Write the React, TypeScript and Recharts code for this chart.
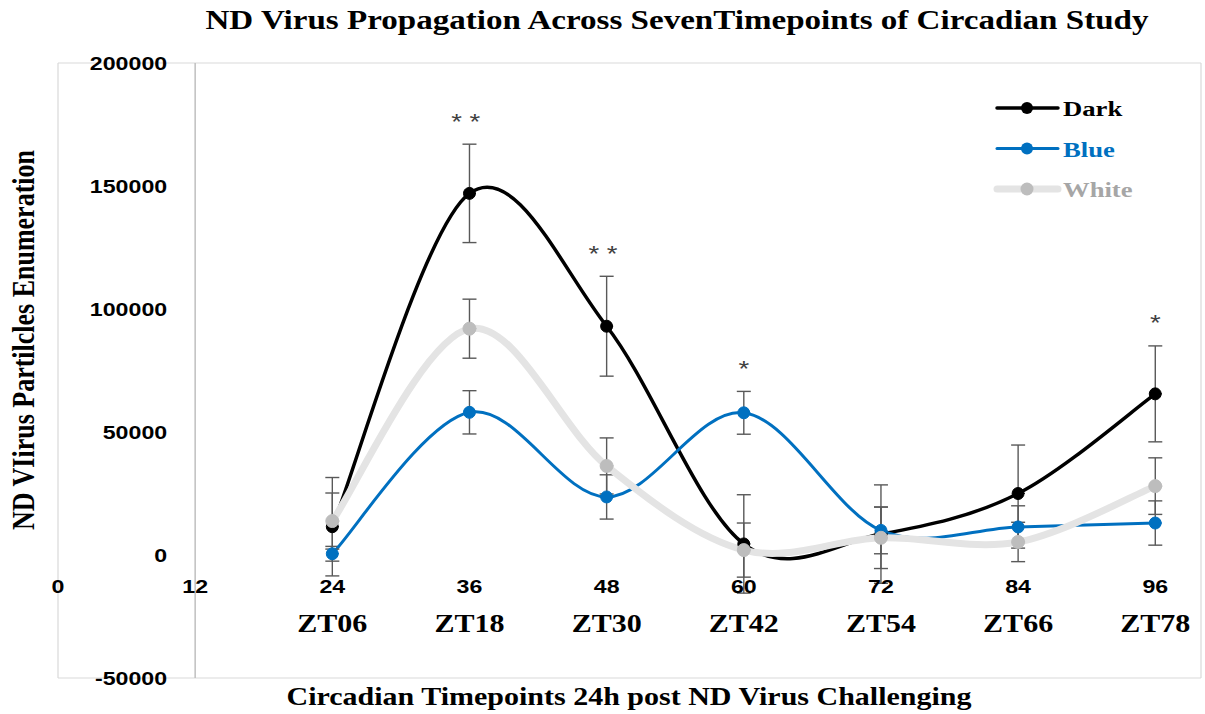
import React from 'react';
import {
  LineChart,
  Line,
  XAxis,
  YAxis,
  CartesianGrid,
  ErrorBar,
  ReferenceLine,
  ReferenceDot,
} from 'recharts';

// Sampling hours (24h post challenge) and their zeitgeber labels
const timepoints = [24, 36, 48, 60, 72, 84, 96];
const ztLabels = ['ZT06', 'ZT18', 'ZT30', 'ZT42', 'ZT54', 'ZT66', 'ZT78'];
const hourTicks = [0, 12, 24, 36, 48, 60, 72, 84, 96];
const valueTicks = [-50000, 0, 50000, 100000, 150000, 200000];

// Mean virus particle counts and their error margins per light regime
const darkMean = [11500, 147000, 93000, 4500, 8500, 25000, 65500];
const darkErr = [20000, 20000, 20300, 20000, 20000, 19700, 19500];
const blueMean = [500, 58000, 23600, 57800, 10000, 11400, 13000];
const blueErr = [3000, 8800, 9000, 8700, 9500, 8600, 9000];
const whiteMean = [13800, 92000, 36200, 2000, 7000, 5300, 28000];
const whiteErr = [11400, 12000, 11400, 11000, 12500, 8000, 11500];

// Significance marks placed over the upper error bar of a series
const sigHours = [36, 48, 60, 96];
const sigMarks = ['**', '**', '*', '*'];
const sigSeries = ['dark', 'dark', 'blue', 'dark'];

const SERIES = [
  { key: 'dark', name: 'Dark', mean: darkMean, err: darkErr, line: '#000000', marker: '#000000', text: '#000000', width: 3.5, r: 6 },
  { key: 'blue', name: 'Blue', mean: blueMean, err: blueErr, line: '#0070C0', marker: '#0070C0', text: '#0070C0', width: 3, r: 6 },
  { key: 'white', name: 'White', mean: whiteMean, err: whiteErr, line: '#E4E4E4', marker: '#BDBDBD', text: '#A6A6A6', width: 7, r: 6.5 },
];

const table = timepoints.map((t, i) => {
  const row: Record<string, number> = { t };
  SERIES.forEach((s) => {
    row[s.key] = s.mean[i];
    row[`${s.key}Err`] = s.err[i];
  });
  return row;
});

const SERIF = '"Liberation Serif", "Times New Roman", serif';
const SANS = '"Liberation Sans", Arial, sans-serif';

// Catmull-Rom style smoothing (control points at one sixth of the neighbour span)
function smoothCurve(context: any) {
  let pts: number[][] = [];
  return {
    areaStart() {},
    areaEnd() {},
    lineStart() {
      pts = [];
    },
    point(x: number, y: number) {
      pts.push([+x, +y]);
    },
    lineEnd() {
      const n = pts.length;
      if (!n) return;
      context.moveTo(pts[0][0], pts[0][1]);
      for (let i = 0; i < n - 1; i++) {
        const p0 = pts[Math.max(i - 1, 0)];
        const p1 = pts[i];
        const p2 = pts[i + 1];
        const p3 = pts[Math.min(i + 2, n - 1)];
        context.bezierCurveTo(
          p1[0] + (p2[0] - p0[0]) / 6,
          p1[1] + (p2[1] - p0[1]) / 6,
          p2[0] - (p3[0] - p1[0]) / 6,
          p2[1] - (p3[1] - p1[1]) / 6,
          p2[0],
          p2[1]
        );
      }
    },
  };
}

const center = (p: any) => {
  const vb = p.viewBox || {};
  return [vb.x + (vb.width || 0) / 2, vb.y + (vb.height || 0) / 2];
};

const WideText = ({ x, y, anchor, size, family, color, children, sx = 1.22 }: any) => (
  <text
    transform={`translate(${x},${y}) scale(${sx},1)`}
    x={0}
    y={0}
    textAnchor={anchor}
    fontFamily={family}
    fontWeight="bold"
    fontSize={size}
    fill={color}
  >
    {children}
  </text>
);

const valueLabel = (v: number) => (p: any) => {
  const [cx, cy] = center(p);
  return (
    <WideText x={cx - 28} y={cy + 6.8} anchor="end" size={19} family={SANS} color="#000">
      {String(v)}
    </WideText>
  );
};

const hourLabel = (h: number) => (p: any) => {
  const [cx, cy] = center(p);
  const i = timepoints.indexOf(h);
  return (
    <g>
      <WideText x={cx} y={cy + 37.8} anchor="middle" size={19} family={SANS} color="#000">
        {String(h)}
      </WideText>
      {i >= 0 && (
        <WideText x={cx} y={cy + 76.5} anchor="middle" size={25} family={SERIF} color="#000" sx={1.2}>
          {ztLabels[i]}
        </WideText>
      )}
    </g>
  );
};

const sigLabel = (mark: string) => (p: any) => {
  const [cx, cy] = center(p);
  return (
    <text
      transform={`translate(${cx},${cy - 15.5}) scale(1.25,1)`}
      textAnchor="middle"
      fontFamily={SANS}
      fontSize={22}
      fill="#404040"
      letterSpacing={mark.length > 1 ? 6 : 0}
    >
      {mark}
    </text>
  );
};

export default function App() {
  return (
    <div style={{ position: 'absolute', left: 0, top: 0, width: 1205, height: 714, background: '#fff' }}>
      <LineChart
        width={1205}
        height={714}
        data={table}
        margin={{ top: 63, right: 4, bottom: 36, left: 58 }}
      >
        <CartesianGrid stroke="#D9D9D9" strokeWidth={1.2} />
        <XAxis
          type="number"
          dataKey="t"
          domain={[0, 100]}
          ticks={hourTicks}
          height={0}
          tick={false}
          tickLine={false}
          axisLine={false}
        />
        <YAxis
          type="number"
          domain={[-50000, 200000]}
          ticks={valueTicks}
          width={0}
          tick={false}
          tickLine={false}
          axisLine={false}
        />
        <ReferenceLine x={12} stroke="#BFBFBF" strokeWidth={1.5} />
        {valueTicks.map((v) => (
          <ReferenceDot key={`v${v}`} x={12} y={v} r={0} fill="none" stroke="none" label={valueLabel(v)} />
        ))}
        {hourTicks.map((h) => (
          <ReferenceDot key={`h${h}`} x={h} y={0} r={0} fill="none" stroke="none" label={hourLabel(h)} />
        ))}
        {SERIES.map((s) => (
          <Line
            key={s.key}
            type={smoothCurve as any}
            dataKey={s.key}
            stroke={s.line}
            strokeWidth={s.width}
            strokeLinecap="round"
            dot={{ r: s.r, fill: s.marker, stroke: s.marker, strokeWidth: 1 }}
            activeDot={false}
            isAnimationActive={false}
          >
            <ErrorBar dataKey={`${s.key}Err`} direction="y" width={7} stroke="#595959" strokeWidth={1.4} />
          </Line>
        ))}
        {sigHours.map((h, k) => {
          const s = SERIES.find((x) => x.key === sigSeries[k])!;
          const i = timepoints.indexOf(h);
          return (
            <ReferenceDot
              key={`s${h}`}
              x={h}
              y={s.mean[i] + s.err[i]}
              r={0}
              fill="none"
              stroke="none"
              label={sigLabel(sigMarks[k])}
            />
          );
        })}
      </LineChart>

      <svg
        width={1205}
        height={714}
        style={{ position: 'absolute', left: 0, top: 0, pointerEvents: 'none' }}
      >
        <text
          transform="translate(677,28.5) scale(1.19,1)"
          textAnchor="middle"
          fontFamily={SERIF}
          fontWeight="bold"
          fontSize={27.8}
          fill="#000"
        >
          ND Virus Propagation Across SevenTimepoints of Circadian Study
        </text>
        <WideText x={629} y={704.5} anchor="middle" size={24.6} family={SERIF} color="#000" sx={1.22}>
          Circadian Timepoints 24h post ND Virus Challenging
        </WideText>
        <text
          transform="translate(34,340) rotate(-90) scale(1,1.18)"
          textAnchor="middle"
          fontFamily={SERIF}
          fontWeight="bold"
          fontSize={26}
          fill="#000"
        >
          ND VIirus Partilcles Enumeration
        </text>
        {SERIES.map((s, i) => {
          const y = 108 + i * 40.5;
          return (
            <g key={s.key}>
              <line x1={997} x2={1058} y1={y} y2={y} stroke={s.line} strokeWidth={s.width} strokeLinecap="round" />
              <circle cx={1027} cy={y} r={s.r} fill={s.marker} />
              <WideText x={1063} y={y + 8} anchor="start" size={21.5} family={SERIF} color={s.text} sx={1.24}>
                {s.name}
              </WideText>
            </g>
          );
        })}
      </svg>
    </div>
  );
}
